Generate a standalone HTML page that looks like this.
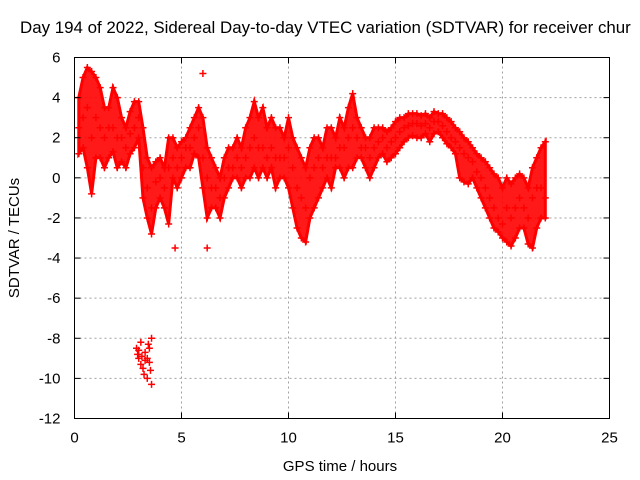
<!DOCTYPE html>
<html><head><meta charset="utf-8"><style>
html,body{margin:0;padding:0;background:#fff;}
svg{display:block;font-family:"Liberation Sans",sans-serif;}
</style></head><body>
<svg id="chart" width="640" height="480" viewBox="0 0 640 480">
<rect width="640" height="480" fill="#fff"/>
<text x="20" y="33" font-size="16.9" fill="#000">Day 194 of 2022, Sidereal Day-to-day VTEC variation (SDTVAR) for receiver chur</text>
<g id="grid"></g>
<g id="marks"></g>
<rect x="74.5" y="57.5" width="535" height="361" fill="none" stroke="#000"/>
<g id="ticks"></g>
<text x="340" y="471" font-size="15" text-anchor="middle">GPS time / hours</text>
<text x="0" y="0" font-size="15" text-anchor="middle" transform="translate(19,238) rotate(-90)">SDTVAR / TECUs</text>
</svg>
<script>
const xTicks=[0,5,10,15,20,25];
const yTicks=[-12,-10,-8,-6,-4,-2,0,2,4,6];
const times=[0.2,0.4,0.6,0.8,1.0,1.2,1.4,1.6,1.8,2.0,2.2,2.4,2.6,2.8,3.0,3.2,3.4,3.6,3.8,4.0,4.2,4.4,4.6,4.8,5.0,5.2,5.4,5.6,5.8,6.0,6.2,6.4,6.6,6.8,7.0,7.2,7.4,7.6,7.8,8.0,8.2,8.4,8.6,8.8,9.0,9.2,9.4,9.6,9.8,10.0,10.2,10.4,10.6,10.8,11.0,11.2,11.4,11.6,11.8,12.0,12.2,12.4,12.6,12.8,13.0,13.2,13.4,13.6,13.8,14.0,14.2,14.4,14.6,14.8,15.0,15.2,15.4,15.6,15.8,16.0,16.2,16.4,16.6,16.8,17.0,17.2,17.4,17.6,17.8,18.0,18.2,18.4,18.6,18.8,19.0,19.2,19.4,19.6,19.8,20.0,20.2,20.4,20.6,20.8,21.0,21.2,21.4,21.6,21.8,22.0];
const hiVals=[4,5,5.5,5.3,5,4.5,3.5,3.5,4.5,4,3,2.5,3.3,3.8,3.8,2.5,1,0.5,0.8,1,0.5,2,2,1.5,1.8,2,2.5,3,3.5,3,1.5,1,0.5,0,1,1.5,1.5,2,1.5,2.5,3,3.8,3,3.5,2.5,3,2.5,2.5,2,3,2,1.5,1,0.5,1.5,2,2,1.5,2.5,2.5,2,3,2.5,3.5,4.2,3,2.5,2,2,2.5,2.5,2.5,2.3,2.5,2.8,3,3,3.2,3.2,3.2,3.1,3.2,3,3.3,3.2,3.2,3,2.8,2.5,2.3,2,1.8,1.5,1.2,1,0.8,0.5,0.2,0,-0.5,0,-0.3,0,0.2,0,-0.5,0.5,1,1.5,1.8];
const midVals=[2.5,3,3.5,2,3,2.5,2,2.5,2.5,2,2,1.5,2.2,2.5,3,0.5,-0.5,-1.5,-0.2,0,-0.5,0.5,1,0.5,1,1.5,1.5,2,2.5,1,0,-0.5,-0.5,-1,0,0.5,0.5,1,0.5,1,1.5,2,1.5,1.5,1,1.5,1,1,1,1.5,0.5,-0.5,-1,-1.5,0,0.5,1,0.5,1,1,1,1.5,1.5,2,2.5,2,1.5,1.5,1,1.5,1.8,2,1.5,1.8,2,2.3,2.5,2.6,2.7,2.7,2.6,2.7,2.5,2.8,2.8,2.6,2.3,2,1.8,1.5,1.2,1,0.8,0.3,0,-0.5,-1,-1.5,-2,-2.3,-1.5,-2,-1.5,-1,-1.5,-2,-1,-0.5,-0.5,-1];
const loVals=[1.2,1.5,0.5,-0.8,1,1,0.5,1,1.3,0.5,0.8,0.5,1.2,1.5,2,-1,-2,-2.8,-1.5,-1,-1.5,-2.3,0,-0.5,0,0.5,0.5,1.2,1,-0.5,-2,-1.5,-1.5,-2,-1,-0.5,0,0,-0.5,0,0,0.5,0,0.5,0,0.5,-0.5,0,0,-0.5,-1.5,-2.5,-3,-3.2,-2,-1.5,-1,-0.5,0,-0.5,0.5,0.5,0,0.5,0.5,1,1,0.5,0,0.5,1,1.2,0.8,1,1.2,1.5,1.8,2,2.1,2,2,2.2,1.8,2.2,2.3,2,1.7,1.5,1.2,0,-0.2,-0.3,0,-0.5,-1,-1.5,-2,-2.5,-2.7,-3,-3.2,-3.4,-3,-2.5,-2.5,-3.3,-3.5,-2.5,-2,-2];
const extraTimes=[2.9,3.0,3.1,3.2,3.3,3.4,3.5,3.6,3.6,4.7,6.0,6.2,3.5,3.0,3.3,2.95,3.15,3.25,3.45,3.55,3.4,3.1];
const extraVals=[-8.5,-9,-8.2,-9.5,-8.7,-10,-8.5,-10.3,-8,-3.5,5.2,-3.5,-9.2,-8.6,-9.1,-8.8,-8.9,-9.8,-8.3,-9.6,-9,-9.3];

const NS='http://www.w3.org/2000/svg';
const X0=74.5,X1=609.5,Y0=418.5,Y1=57.5;
function sx(t){return X0+(t-0)/(25-0)*(X1-X0);}
function sy(v){return Y0-(v-(-12))/(6-(-12))*(Y0-Y1);}
const grid=document.getElementById('grid'),ticks=document.getElementById('ticks'),marks=document.getElementById('marks');
function line(p,x1,y1,x2,y2,st,dash){const l=document.createElementNS(NS,'line');l.setAttribute('x1',x1);l.setAttribute('y1',y1);l.setAttribute('x2',x2);l.setAttribute('y2',y2);l.setAttribute('stroke',st);if(dash)l.setAttribute('stroke-dasharray',dash);p.appendChild(l);return l;}
function txt(x,y,s,anchor){const t=document.createElementNS(NS,'text');t.setAttribute('x',x);t.setAttribute('y',y);t.setAttribute('font-size','15');t.setAttribute('text-anchor',anchor);t.textContent=s;ticks.appendChild(t);return t;}
xTicks.forEach(v=>{
  if(v>0&&v<25){const g=line(grid,sx(v),Y0,sx(v),Y1,'#a0a0a0','2,3');}
  line(ticks,sx(v),Y0,sx(v),Y0-6,'#000');line(ticks,sx(v),Y1,sx(v),Y1+6,'#000');
  const t=txt(sx(v),Y0+24,String(v),'middle');
  
  
});
yTicks.forEach(v=>{
  if(v>-12&&v<6){const g=line(grid,X0,sy(v),X1,sy(v),'#a0a0a0','2,3');}
  line(ticks,X0,sy(v),X0+6,sy(v),'#000');line(ticks,X1,sy(v),X1-6,sy(v),'#000');
  const t=txt(X0-14,sy(v)+5,String(v),'end');
  
  
});
let d='';
times.forEach((t,i)=>{d+=(i?'L':'M')+sx(t)+' '+sy(hiVals[i]);});
for(let i=times.length-1;i>=0;i--){d+='L'+sx(times[i])+' '+sy(loVals[i]);}
d+='Z';
const env=document.createElementNS(NS,'path');
env.setAttribute('d',d);env.setAttribute('fill','#f00');env.setAttribute('fill-opacity','0.9');env.setAttribute('stroke','#f00');env.setAttribute('stroke-width','3');


marks.appendChild(env);
function plus(t,v){const g=document.createElementNS(NS,'path');const x=sx(t),y=sy(v);
  g.setAttribute('d',`M${x-3.5} ${y}H${x+3.5}M${x} ${y-3.5}V${y+3.5}`);
  g.setAttribute('stroke','#f00');g.setAttribute('stroke-width','1.5');g.setAttribute('fill','none');
  
  
  marks.appendChild(g);}
times.forEach((t,i)=>{plus(t,hiVals[i]);plus(t,midVals[i]);plus(t,loVals[i]);});
extraTimes.forEach((t,i)=>plus(t,extraVals[i]));
</script>
</body></html>
